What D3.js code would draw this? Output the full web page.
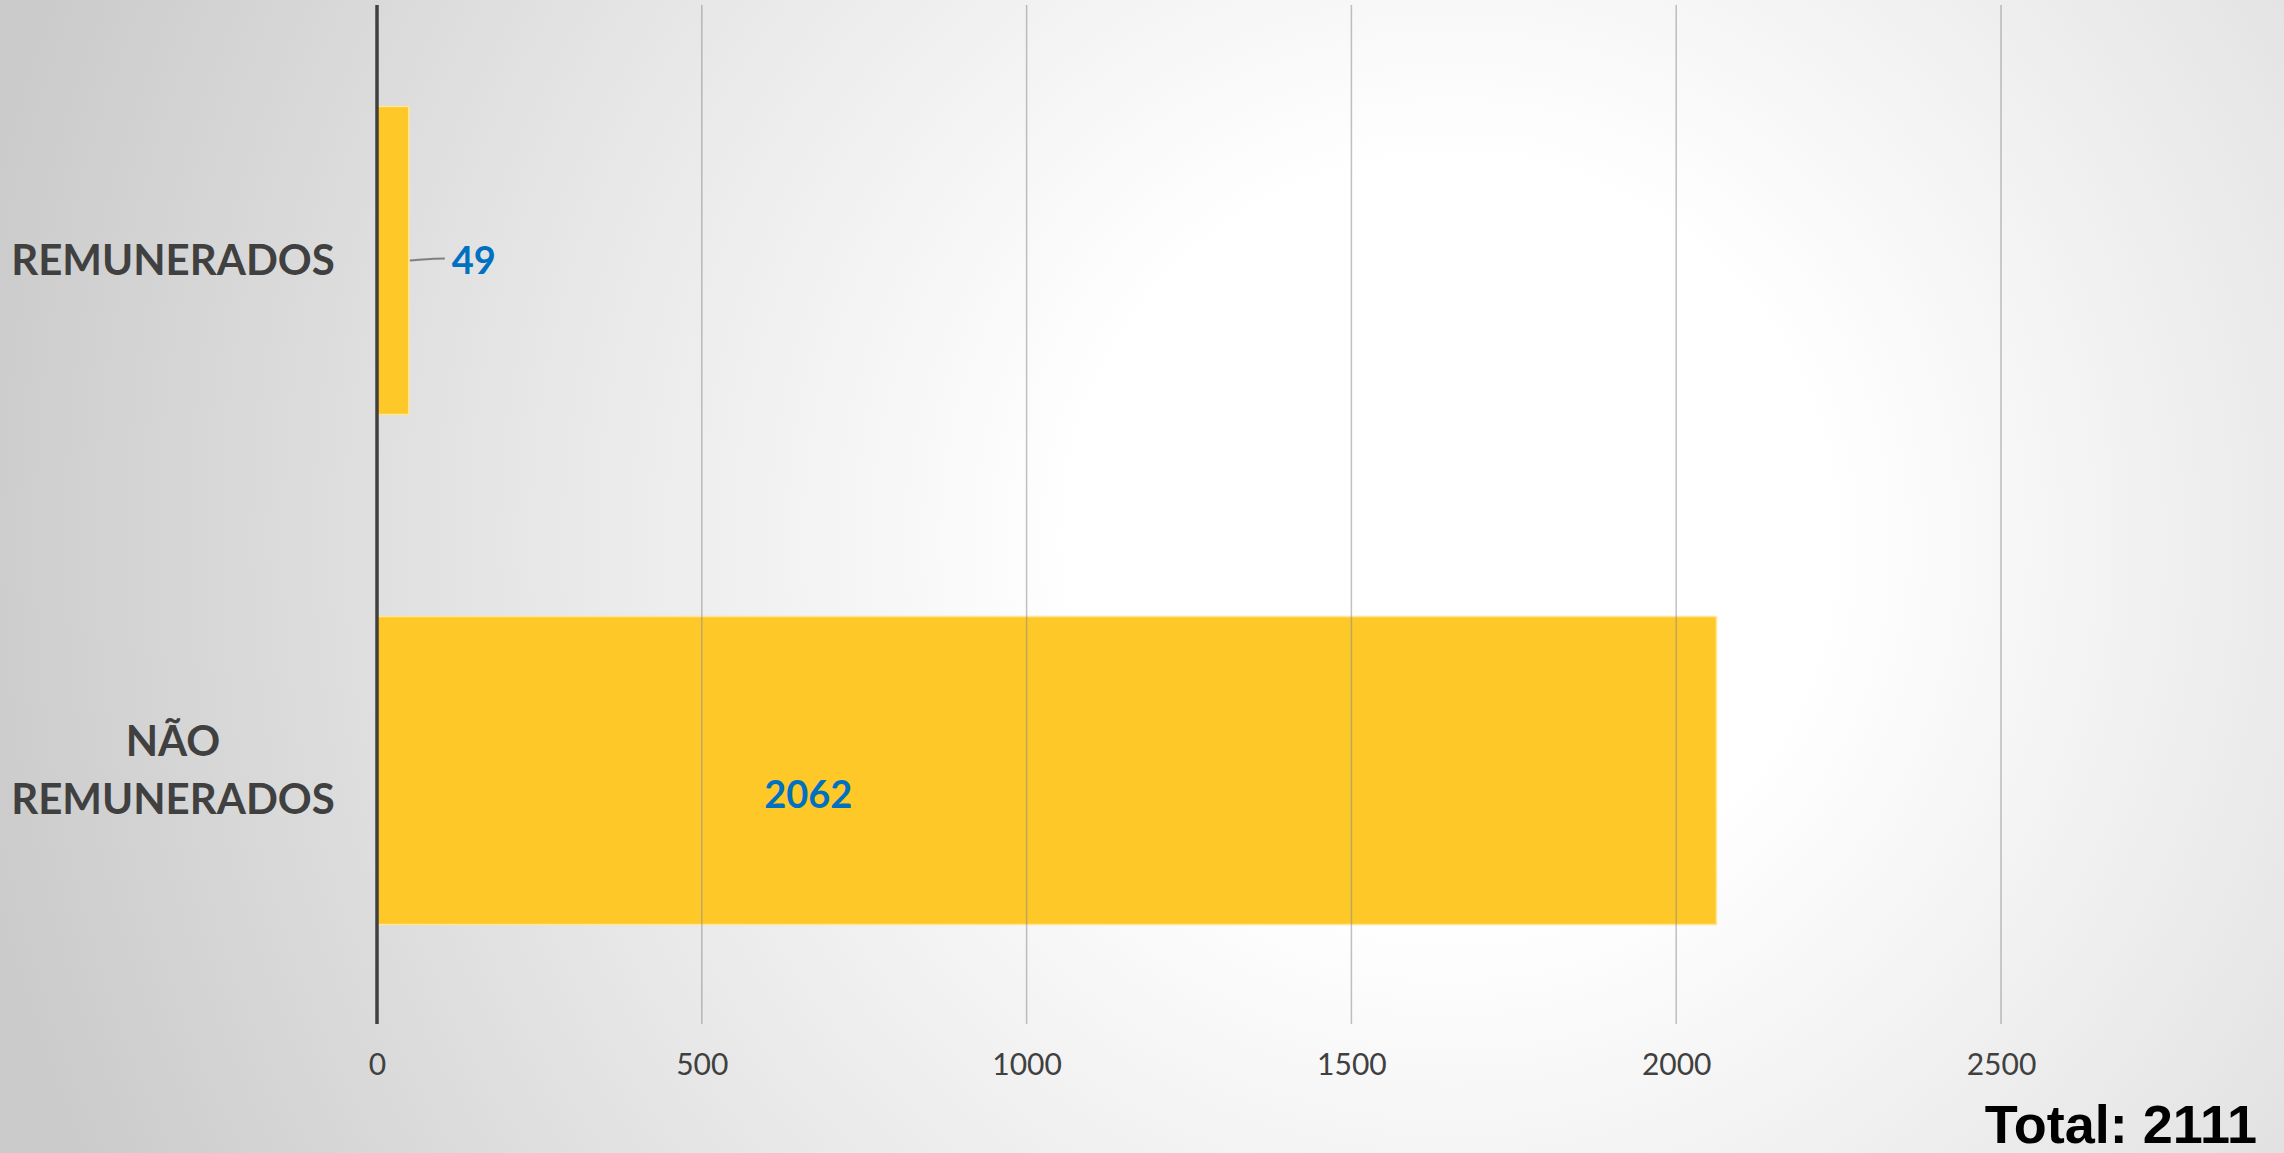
<!DOCTYPE html>
<html><head><meta charset="utf-8">
<script src="https://cdn.jsdelivr.net/npm/d3@7"></script>
<style>html,body{margin:0;padding:0;overflow:hidden;background:#fff}</style>
</head><body>
<svg id="chart" width="2284" height="1153"></svg>
<script>
const categories = ["REMUNERADOS", "NÃO REMUNERADOS"];
const categoryLines = [["REMUNERADOS"], ["NÃO", "REMUNERADOS"]];
const values = [49, 2062];
const tickValues = [0, 500, 1000, 1500, 2000, 2500];
const totalLabel = "Total: 2111";

const W = 2284, H = 1153;
const svg = d3.select("#chart");
const defs = svg.append("defs");
const grad = defs.append("radialGradient").attr("id","bg")
  .attr("gradientUnits","userSpaceOnUse")
  .attr("cx",1450).attr("cy",540).attr("r",1500);
grad.append("stop").attr("offset","0").attr("stop-color","#ffffff");
grad.append("stop").attr("offset","0.25").attr("stop-color","#ffffff");
grad.append("stop").attr("offset","0.6").attr("stop-color","#e8e8e8");
grad.append("stop").attr("offset","1").attr("stop-color","#cbcbcb");
svg.append("rect").attr("width",W).attr("height",H).attr("fill","url(#bg)");

const x = d3.scaleLinear().domain([0, 2500]).range([377, 2001]);
const y = d3.scaleBand().domain(categories).range([7, 1024]).paddingInner(0.396).paddingOuter(0.195);

// bars
svg.append("g").selectAll("rect").data(values).join("rect")
  .attr("x", x(0))
  .attr("y", (d,i)=>y(categories[i]))
  .attr("width", d=>x(d)-x(0))
  .attr("height", y.bandwidth())
  .attr("fill","#FEC828")
  .attr("stroke","#FFE79A").attr("stroke-width",1.5);

// gridlines (drawn on top, faint)
const grid = svg.append("g");
grid.selectAll("line").data(tickValues.slice(1)).join("line")
  .attr("x1",d=>x(d)).attr("x2",d=>x(d))
  .attr("y1",5).attr("y2",1024)
  .attr("stroke","#8c8c8c").attr("stroke-opacity",0.55).attr("stroke-width",1.5);

// x axis tick labels
const xAxis = d3.axisBottom(x).tickValues(tickValues).tickFormat(d3.format("d")).tickSize(0).tickPadding(0);
const gx = svg.append("g").attr("transform","translate(0,1048)").call(xAxis);
gx.select(".domain").remove();
gx.selectAll("text").attr("font-family","Lato, 'Open Sans', sans-serif")
  .attr("font-size",30).attr("fill","#404040").attr("dy","0.9em");

// vertical axis line
svg.append("line").attr("x1",x(0)).attr("x2",x(0)).attr("y1",5).attr("y2",1024)
  .attr("stroke","#404040").attr("stroke-width",3.5);

// category labels
const cl = svg.append("g");
categories.forEach((c,i)=>{
  const lines = categoryLines[i];
  const cy = y(c) + y.bandwidth()/2;
  const lh = 58;
  lines.forEach((ln,j)=>{
    cl.append("text")
      .attr("x",173)
      .attr("y", cy + (j-(lines.length-1)/2)*lh)
      .attr("dy","0.35em")
      .attr("text-anchor","middle")
      .attr("font-family","Lato, 'Open Sans', sans-serif")
      .attr("font-weight","bold")
      .attr("font-size",42)
      .attr("fill","#404040")
      .text(ln);
  });
});

// data labels
const c0 = categories[0];
const cy0 = y(c0) + y.bandwidth()/2;
svg.append("path")
  .attr("d", `M${x(values[0])+1},${cy0} C${x(values[0])+15},${cy0-1} ${x(values[0])+25},${cy0-2} ${x(values[0])+36},${cy0-2}`)
  .attr("fill","none").attr("stroke","#7f7f7f").attr("stroke-width",2);
svg.append("text").attr("x", x(values[0])+43).attr("y", cy0).attr("dy","0.35em")
  .attr("font-family","Lato, 'Open Sans', sans-serif").attr("font-weight","bold")
  .attr("font-size",38).attr("fill","#0070C0").text(values[0]);

const c1 = categories[1];
const cy1 = y(c1) + y.bandwidth()/2;
svg.append("text").attr("x", x(0) + (x(values[1])-x(0))*0.322).attr("y", cy1+24).attr("dy","0.35em")
  .attr("text-anchor","middle")
  .attr("font-family","Lato, 'Open Sans', sans-serif").attr("font-weight","bold")
  .attr("font-size",38).attr("fill","#0070C0").text(values[1]);

// total
svg.append("text").attr("x",2257).attr("y",1143)
  .attr("text-anchor","end")
  .attr("font-family","'Liberation Sans', Arial, sans-serif").attr("font-weight","bold")
  .attr("font-size",54).attr("fill","#000").text(totalLabel);
</script>
</body></html>
